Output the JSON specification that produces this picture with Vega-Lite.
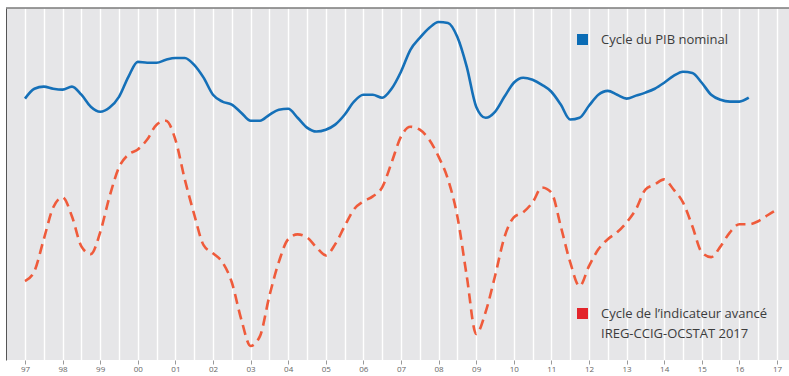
{
  "$schema": "https://vega.github.io/schema/vega-lite/v6.json",
  "width": 783,
  "height": 352,
  "autosize": "none",
  "padding": {"left": 6, "top": 8, "right": 0, "bottom": 16},
  "background": "white",
  "config": {"view": {"fill": "#e6e6e8", "stroke": null}, "font": "Open Sans"},
  "datasets": {
    "pib": [
      {"t": 1997.0, "v": 2.87}, {"t": 1997.25, "v": 3.2}, {"t": 1997.5, "v": 3.27}, {"t": 1997.75, "v": 3.2},
      {"t": 1998.0, "v": 3.17}, {"t": 1998.25, "v": 3.27}, {"t": 1998.5, "v": 3.0}, {"t": 1998.75, "v": 2.6},
      {"t": 1999.0, "v": 2.43}, {"t": 1999.25, "v": 2.57}, {"t": 1999.5, "v": 2.93}, {"t": 1999.75, "v": 3.6},
      {"t": 2000.0, "v": 4.1}, {"t": 2000.25, "v": 4.07}, {"t": 2000.5, "v": 4.07}, {"t": 2000.75, "v": 4.17},
      {"t": 2001.0, "v": 4.23}, {"t": 2001.25, "v": 4.23}, {"t": 2001.5, "v": 4.0}, {"t": 2001.75, "v": 3.57},
      {"t": 2002.0, "v": 3.0}, {"t": 2002.25, "v": 2.77}, {"t": 2002.5, "v": 2.67}, {"t": 2002.75, "v": 2.4},
      {"t": 2003.0, "v": 2.13}, {"t": 2003.25, "v": 2.13}, {"t": 2003.5, "v": 2.33}, {"t": 2003.75, "v": 2.5},
      {"t": 2004.0, "v": 2.53}, {"t": 2004.25, "v": 2.23}, {"t": 2004.5, "v": 1.9}, {"t": 2004.75, "v": 1.77},
      {"t": 2005.0, "v": 1.83}, {"t": 2005.25, "v": 2.0}, {"t": 2005.5, "v": 2.33}, {"t": 2005.75, "v": 2.77},
      {"t": 2006.0, "v": 3.0}, {"t": 2006.25, "v": 3.0}, {"t": 2006.5, "v": 2.9}, {"t": 2006.75, "v": 3.2},
      {"t": 2007.0, "v": 3.77}, {"t": 2007.25, "v": 4.5}, {"t": 2007.5, "v": 4.9}, {"t": 2007.75, "v": 5.23},
      {"t": 2008.0, "v": 5.43}, {"t": 2008.25, "v": 5.4}, {"t": 2008.5, "v": 4.93}, {"t": 2008.75, "v": 3.93},
      {"t": 2009.0, "v": 2.6}, {"t": 2009.25, "v": 2.23}, {"t": 2009.5, "v": 2.43}, {"t": 2009.75, "v": 2.93},
      {"t": 2010.0, "v": 3.4}, {"t": 2010.25, "v": 3.57}, {"t": 2010.5, "v": 3.5}, {"t": 2010.75, "v": 3.33},
      {"t": 2011.0, "v": 3.1}, {"t": 2011.25, "v": 2.67}, {"t": 2011.5, "v": 2.17}, {"t": 2011.75, "v": 2.23},
      {"t": 2012.0, "v": 2.63}, {"t": 2012.25, "v": 3.0}, {"t": 2012.5, "v": 3.13}, {"t": 2012.75, "v": 3.0},
      {"t": 2013.0, "v": 2.87}, {"t": 2013.25, "v": 2.97}, {"t": 2013.5, "v": 3.07}, {"t": 2013.75, "v": 3.2},
      {"t": 2014.0, "v": 3.4}, {"t": 2014.25, "v": 3.63}, {"t": 2014.5, "v": 3.77}, {"t": 2014.75, "v": 3.73},
      {"t": 2015.0, "v": 3.4}, {"t": 2015.25, "v": 3.0}, {"t": 2015.5, "v": 2.83}, {"t": 2015.75, "v": 2.77},
      {"t": 2016.0, "v": 2.77}, {"t": 2016.25, "v": 2.9}
    ],
    "ind": [
      {"t": 1997.0, "v": -3.23}, {"t": 1997.25, "v": -2.9}, {"t": 1997.5, "v": -1.83}, {"t": 1997.75, "v": -0.77},
      {"t": 1998.0, "v": -0.43}, {"t": 1998.25, "v": -1.07}, {"t": 1998.5, "v": -2.07}, {"t": 1998.75, "v": -2.33},
      {"t": 1999.0, "v": -1.6}, {"t": 1999.25, "v": -0.4}, {"t": 1999.5, "v": 0.57}, {"t": 1999.75, "v": 1.0},
      {"t": 2000.0, "v": 1.17}, {"t": 2000.25, "v": 1.5}, {"t": 2000.5, "v": 2.0}, {"t": 2000.75, "v": 2.13},
      {"t": 2001.0, "v": 1.5}, {"t": 2001.25, "v": 0.17}, {"t": 2001.5, "v": -1.0}, {"t": 2001.75, "v": -2.03},
      {"t": 2002.0, "v": -2.3}, {"t": 2002.25, "v": -2.6}, {"t": 2002.5, "v": -3.27}, {"t": 2002.75, "v": -4.5},
      {"t": 2003.0, "v": -5.4}, {"t": 2003.25, "v": -5.07}, {"t": 2003.5, "v": -3.73}, {"t": 2003.75, "v": -2.6},
      {"t": 2004.0, "v": -1.83}, {"t": 2004.25, "v": -1.67}, {"t": 2004.5, "v": -1.77}, {"t": 2004.75, "v": -2.1},
      {"t": 2005.0, "v": -2.37}, {"t": 2005.25, "v": -2.0}, {"t": 2005.5, "v": -1.4}, {"t": 2005.75, "v": -0.83},
      {"t": 2006.0, "v": -0.57}, {"t": 2006.25, "v": -0.4}, {"t": 2006.5, "v": -0.1}, {"t": 2006.75, "v": 0.73},
      {"t": 2007.0, "v": 1.6}, {"t": 2007.25, "v": 1.93}, {"t": 2007.5, "v": 1.83}, {"t": 2007.75, "v": 1.5},
      {"t": 2008.0, "v": 0.93}, {"t": 2008.25, "v": 0.17}, {"t": 2008.5, "v": -1.07}, {"t": 2008.75, "v": -3.07},
      {"t": 2009.0, "v": -5.0}, {"t": 2009.25, "v": -4.27}, {"t": 2009.5, "v": -3.07}, {"t": 2009.75, "v": -1.77},
      {"t": 2010.0, "v": -1.1}, {"t": 2010.25, "v": -0.93}, {"t": 2010.5, "v": -0.6}, {"t": 2010.75, "v": -0.1},
      {"t": 2011.0, "v": -0.27}, {"t": 2011.25, "v": -1.4}, {"t": 2011.5, "v": -2.6}, {"t": 2011.75, "v": -3.4},
      {"t": 2012.0, "v": -2.73}, {"t": 2012.25, "v": -2.17}, {"t": 2012.5, "v": -1.83}, {"t": 2012.75, "v": -1.6},
      {"t": 2013.0, "v": -1.27}, {"t": 2013.25, "v": -0.83}, {"t": 2013.5, "v": -0.17}, {"t": 2013.75, "v": 0.0},
      {"t": 2014.0, "v": 0.17}, {"t": 2014.25, "v": -0.17}, {"t": 2014.5, "v": -0.6}, {"t": 2014.75, "v": -1.4},
      {"t": 2015.0, "v": -2.27}, {"t": 2015.25, "v": -2.43}, {"t": 2015.5, "v": -2.07}, {"t": 2015.75, "v": -1.6},
      {"t": 2016.0, "v": -1.33}, {"t": 2016.25, "v": -1.33}, {"t": 2016.5, "v": -1.23}, {"t": 2016.75, "v": -1.03},
      {"t": 2016.92, "v": -0.9}
    ]
  },
  "layer": [
    {
      "data": {"name": "pib"},
      "mark": {"type": "line", "interpolate": "monotone", "strokeWidth": 2.6},
      "encoding": {
        "x": {
          "field": "t", "type": "quantitative",
          "scale": {"domain": [1996.495, 2017.32], "nice": false, "zero": false},
          "axis": {
            "title": null,
            "tickCount": 100,
            "values": [1997, 1997.5, 1998, 1998.5, 1999, 1999.5, 2000, 2000.5, 2001, 2001.5, 2002, 2002.5, 2003, 2003.5, 2004, 2004.5, 2005, 2005.5, 2006, 2006.5, 2007, 2007.5, 2008, 2008.5, 2009, 2009.5, 2010, 2010.5, 2011, 2011.5, 2012, 2012.5, 2013, 2013.5, 2014, 2014.5, 2015, 2015.5, 2016, 2016.5, 2017],
            "labelExpr": "datum.value % 1 == 0 ? slice('' + datum.value, 2) : ''",
            "labelOverlap": false,
            "grid": true, "gridColor": "#ffffff", "gridWidth": 1.4,
            "domain": false,
            "ticks": true, "tickColor": "#9a9a9a", "tickSize": 4, "tickWidth": 1,
            "tickOpacity": {"condition": {"test": "datum.value % 1 != 0", "value": 0}, "value": 1},
            "labelFontSize": 8, "labelColor": "#666666", "labelPadding": 1, "labelFlush": false
          }
        },
        "y": {
          "field": "v", "type": "quantitative",
          "scale": {"domain": [-5.87, 5.9], "nice": false, "zero": false},
          "axis": {"title": null, "labels": false, "ticks": false, "grid": false, "domain": true, "domainColor": "#555555", "domainWidth": 1}
        },
        "color": {
          "datum": "Cycle du PIB nominal", "type": "nominal",
          "scale": {"range": ["#1570b8"]},
          "legend": {
            "title": null, "orient": "none", "legendX": 570, "legendY": 25, "padding": 0,
            "symbolType": "square", "symbolSize": 121, "symbolFillColor": "#0b6cb5", "symbolStrokeWidth": 0,
            "labelFontSize": 13, "labelColor": "#3c3c3c", "labelOffset": 12, "labelLimit": 300,
            "encode": {"symbols": {"update": {"fill": {"value": "#0b6cb5"}, "stroke": {"value": "transparent"}}}}
          }
        }
      }
    },
    {
      "data": {"name": "ind"},
      "mark": {"type": "line", "interpolate": "monotone", "strokeWidth": 2.6, "strokeDash": [10, 6]},
      "encoding": {
        "x": {"field": "t", "type": "quantitative"},
        "y": {"field": "v", "type": "quantitative"},
        "color": {
          "datum": "Cycle de l’indicateur avancé|IREG-CCIG-OCSTAT 2017", "type": "nominal",
          "scale": {"range": ["#ef5b3b"]},
          "legend": {
            "title": null, "orient": "none", "legendX": 570, "legendY": 299, "padding": 0,
            "symbolType": "square", "symbolSize": 121, "symbolFillColor": "#e3242b", "symbolStrokeWidth": 0,
            "labelFontSize": 13, "labelColor": "#3c3c3c", "labelOffset": 12, "labelLimit": 300,
            "labelExpr": "split(datum.label, '|')",
            "encode": {
              "symbols": {"update": {"fill": {"value": "#e3242b"}, "stroke": {"value": "transparent"}}},
              "labels": {"update": {"lineHeight": {"value": 20}}}
            }
          }
        }
      }
    },
    {
      "data": {"values": [{}]},
      "mark": {"type": "rule", "color": "#7a7a7a", "strokeWidth": 1.6},
      "encoding": {"y": {"datum": 5.9}}
    }
  ],
  "resolve": {"scale": {"color": "independent"}}
}
